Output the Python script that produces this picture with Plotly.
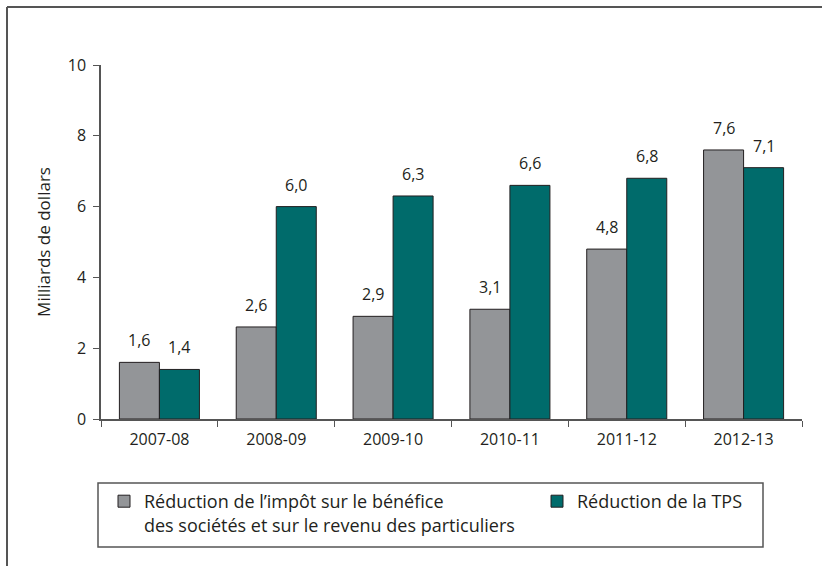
import plotly.graph_objects as go

# --- Data ---
years = ["2007-08", "2008-09", "2009-10", "2010-11", "2011-12", "2012-13"]
impot = [1.6, 2.6, 2.9, 3.1, 4.8, 7.6]
tps = [1.4, 6.0, 6.3, 6.6, 6.8, 7.1]
impot_name = "Réduction de l’impôt sur le bénéfice<br>des sociétés et sur le revenu des particuliers"
tps_name = "Réduction de la TPS"

GRAY = "#939598"
TEAL = "#006B6B"
FONT = "Open Sans"

# plot area in pixels
W, H = 822, 566
L, R, T, B = 101, 20, 65, 147
pw, ph = W - L - R, H - T - B


def px_x(x):
    return (x - L) / pw


def px_y(y):
    return (H - B - y) / ph


fig = go.Figure()
fig.add_trace(go.Bar(x=years, y=impot, name=impot_name, marker_color=GRAY,
                     marker_line=dict(color="#231f20", width=1), legend="legend"))
fig.add_trace(go.Bar(x=years, y=tps, name=tps_name, marker_color=TEAL,
                     marker_line=dict(color="#231f20", width=1), legend="legend2"))

# value labels (comma decimals)
bar_w = pw / len(years) * (1 - 0.315) / 2
for vals, sh in [(impot, -bar_w / 2), (tps, bar_w / 2)]:
    for yr, v in zip(years, vals):
        fig.add_annotation(x=yr, y=v, text=f"{v:.1f}".replace(".", ","),
                           showarrow=False, xshift=sh, yshift=9, yanchor="bottom",
                           font=dict(family=FONT, size=16, color="#231f20"))

# outer frame (open at bottom/right) and legend box
line = dict(color="#555555", width=2)
fig.add_shape(type="line", xref="paper", yref="paper",
              x0=px_x(7), x1=px_x(W + 5), y0=px_y(7), y1=px_y(7), line=line)
fig.add_shape(type="line", xref="paper", yref="paper",
              x0=px_x(7), x1=px_x(7), y0=px_y(7), y1=px_y(H + 5), line=line)
fig.add_shape(type="rect", xref="paper", yref="paper",
              x0=px_x(98), x1=px_x(763), y0=px_y(483), y1=px_y(547),
              line=dict(color="#555555", width=1.5))

leg = dict(orientation="h", xref="container", yref="container",
           xanchor="left", yanchor="top",
           font=dict(family=FONT, size=18, color="#231f20"),
           bgcolor="rgba(0,0,0,0)", borderwidth=0, valign="top")

fig.update_layout(
    width=W, height=H,
    margin=dict(l=L, r=R, t=T, b=B),
    paper_bgcolor="white", plot_bgcolor="white",
    barmode="group", bargap=0.315, bargroupgap=0,
    font=dict(family=FONT, size=15, color="#231f20"),
    showlegend=True,
    legend=dict(leg, x=104 / W, y=1 - 483 / H),
    legend2=dict(leg, x=537 / W, y=1 - 483 / H),
    xaxis=dict(type="category", showline=True, linecolor="#555555", linewidth=1.5,
               ticks="outside", tickson="boundaries", ticklen=6, tickcolor="#555555",
               tickfont=dict(size=16), ticklabelstandoff=5,
               showgrid=False, automargin=False),
    yaxis=dict(range=[0, 10], dtick=2, showline=True, linecolor="#555555", linewidth=1.5,
               ticks="outside", ticklen=6, tickcolor="#555555", showgrid=False,
               zeroline=False, tickfont=dict(size=16), ticklabelstandoff=4, automargin=False,
               title=dict(text="Milliards de dollars", font=dict(size=17), standoff=13)),
)

# the page body has a default margin: remove it so the figure sits at (0, 0)
fig.write_html("out.html", config={"displayModeBar": False},
               post_script="document.body.style.margin='0';")
